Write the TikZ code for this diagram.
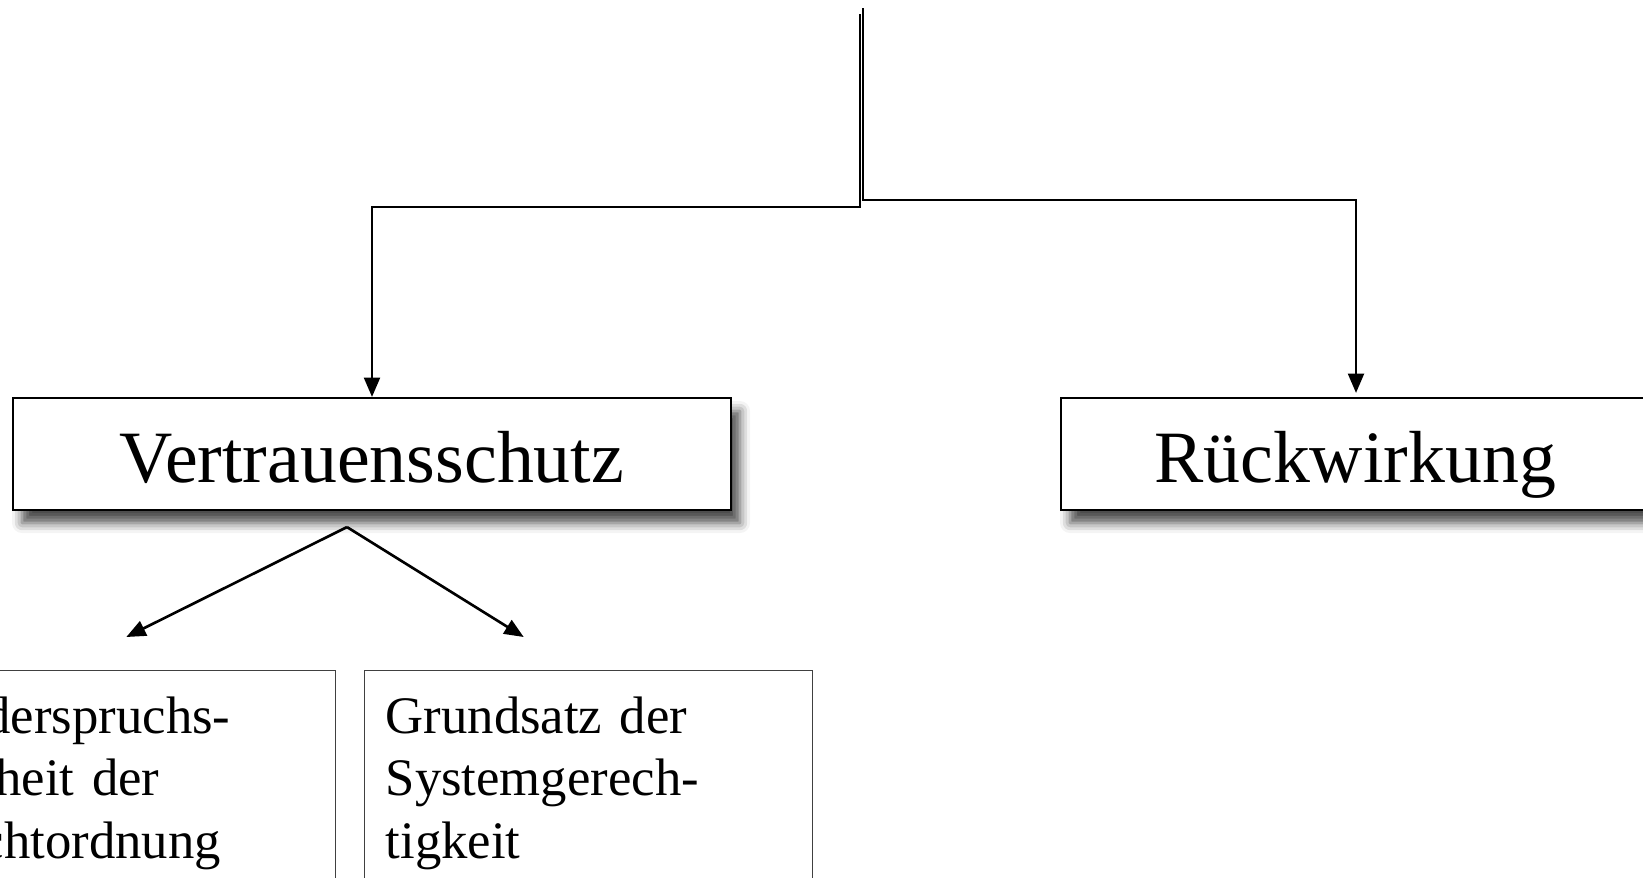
\documentclass[tikz,border=0pt]{standalone}
\usepackage{fontspec}
\setmainfont{Liberation Serif}
\usetikzlibrary{arrows.meta, shadows.blur}

\begin{document}
\begin{tikzpicture}[->,>={Triangle[length=5.5pt,width=4.5pt]},line width=0.75pt,
  main node/.style={draw,line width=0.6pt,fill=white,minimum height=1.12cm,inner ysep=0.14cm,
    text height=0.7cm,text depth=0.14cm,font=\fontsize{21}{25}\selectfont,
    blur shadow={shadow xshift=0.09cm,shadow yshift=-0.13cm,shadow blur radius=0.1cm,shadow opacity=70}},
  sub node/.style={draw=black!75,line width=0.4pt,align=left,inner xsep=0.21cm,inner ysep=0.26cm,
    font=\fontsize{15}{17.8}\selectfont}]
  \useasboundingbox (0,0) rectangle (16.43,-8.77);
  \clip (0,0) rectangle (16.43,-8.77);
  \node[main node,minimum width=7.18cm] (vs) at (3.72,-4.54) {Vertrauensschutz};
  \node[main node,minimum width=5.88cm] (rw) at (13.55,-4.54) {Rückwirkung};
  \node[sub node,anchor=north east,text width=3.92cm] (ws) at (3.36,-6.70) {Widerspruchs-\\freiheit der\\Rechtordnung};
  \node[sub node,anchor=north west,text width=4.06cm] (sg) at (3.64,-6.70) {Grundsatz der\\Systemgerech-\\tigkeit};
  \coordinate (top1) at (8.60,-0.14);
  \coordinate (top2) at (8.63,-0.08);
  \coordinate (split) at ([xshift=-0.25cm,yshift=-0.16cm]vs.south);
  \coordinate (ws tip) at ([xshift=0.08cm,yshift=0.33cm]ws.north);
  \coordinate (sg tip) at ([xshift=-0.65cm,yshift=0.33cm]sg.north);
  \draw (top1) -- ++(0,-1.93) -| (vs.north);
  \draw (top2) -- ++(0,-1.92) -| ([xshift=0.01cm,yshift=0.04cm]rw.north);
  \draw (split) -- (ws tip);
  \draw (split) -- (sg tip);
\end{tikzpicture}
\end{document}
